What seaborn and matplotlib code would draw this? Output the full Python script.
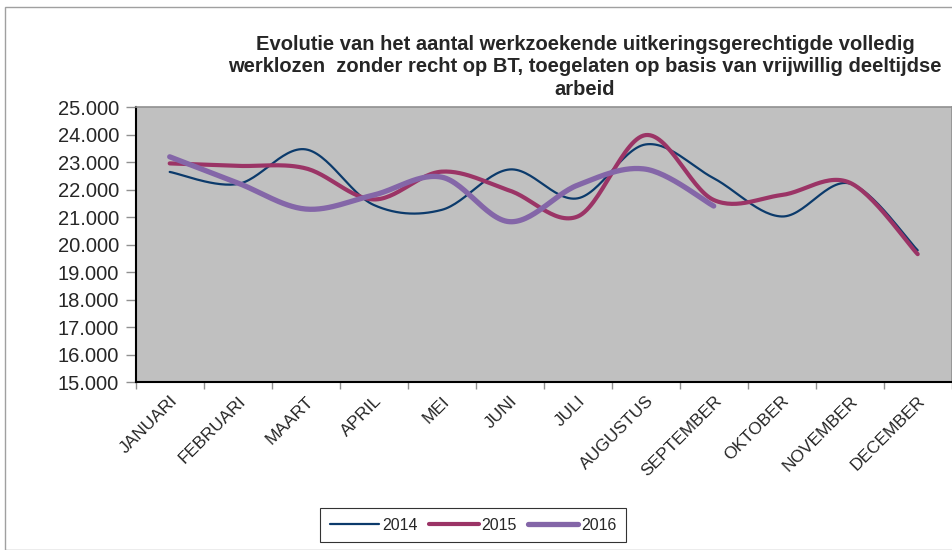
import numpy as np
import pandas as pd
import matplotlib
matplotlib.use("Agg")
import matplotlib.pyplot as plt
from matplotlib.patches import Rectangle
from matplotlib.ticker import FuncFormatter, FixedLocator
import seaborn as sns

months = ["JANUARI", "FEBRUARI", "MAART", "APRIL", "MEI", "JUNI", "JULI",
          "AUGUSTUS", "SEPTEMBER", "OKTOBER", "NOVEMBER", "DECEMBER"]
v2014 = [22650, 22210, 23470, 21450, 21270, 22740, 21690, 23650, 22420, 21030, 22230, 19800]
v2015 = [22960, 22870, 22780, 21650, 22660, 21970, 21030, 23990, 21630, 21810, 22260, 19660]
v2016 = [23200, 22250, 21300, 21810, 22460, 20840, 22170, 22750, 21410]
years = ["2014", "2015", "2016"]
title = ("Evolutie van het aantal werkzoekende uitkeringsgerechtigde volledig\n"
         "werklozen  zonder recht op BT, toegelaten op basis van vrijwillig deeltijdse\n"
         "arbeid")

sns.set_theme(style="white")
plt.rcParams['font.family'] = ['Liberation Sans', 'DejaVu Sans']

def smooth(vals, n=30):
    """Excel-style smoothed line (Catmull-Rom Bezier) through the data points."""
    x = np.arange(len(vals), dtype=float)
    y = np.asarray(vals, dtype=float)
    xs, ys = [], []
    for i in range(len(x) - 1):
        p0 = (x[max(i - 1, 0)], y[max(i - 1, 0)])
        p1 = (x[i], y[i])
        p2 = (x[i + 1], y[i + 1])
        p3 = (x[min(i + 2, len(x) - 1)], y[min(i + 2, len(x) - 1)])
        c1 = (p1[0] + (p2[0] - p0[0]) / 6, p1[1] + (p2[1] - p0[1]) / 6)
        c2 = (p2[0] - (p3[0] - p1[0]) / 6, p2[1] - (p3[1] - p1[1]) / 6)
        t = np.linspace(0, 1, n, endpoint=(i == len(x) - 2))
        bx = (1-t)**3*p1[0] + 3*(1-t)**2*t*c1[0] + 3*(1-t)*t**2*c2[0] + t**3*p2[0]
        by = (1-t)**3*p1[1] + 3*(1-t)**2*t*c1[1] + 3*(1-t)*t**2*c2[1] + t**3*p2[1]
        xs.append(bx); ys.append(by)
    return np.concatenate(xs), np.concatenate(ys)

frames = []
for yr, vals in zip(years, [v2014, v2015, v2016]):
    sx, sy = smooth(vals)
    frames.append(pd.DataFrame({"x": sx, "y": sy, "jaar": yr}))
df = pd.concat(frames, ignore_index=True)

fig = plt.figure(figsize=(9.53, 5.5), dpi=100)
fig.patch.set_facecolor("white")
fig.add_artist(Rectangle((5/953, 0), 1.0, 1 - 7/550, transform=fig.transFigure,
                         fill=False, edgecolor="#a0a0a0", linewidth=1.0))

ax = fig.add_axes([135.7/953, 1 - 382.3/550, (951.7 - 135.7)/953, (382.3 - 107.3)/550])
ax.set_facecolor("#c0c0c0")

palette = {"2014": "#0b3a6b", "2015": "#9b3466", "2016": "#8466a8"}
widths = {"2014": 1.6, "2015": 3.0, "2016": 3.8}
for yr in years:
    sns.lineplot(data=df[df.jaar == yr], x="x", y="y", color=palette[yr],
                 linewidth=widths[yr], ax=ax, label=yr, sort=False,
                 estimator=None, solid_capstyle="round")

ax.set_xlim(-0.5, 11.5)
ax.set_ylim(15000, 25000)
ax.set_xlabel("")
ax.set_ylabel("")

ax.set_yticks(np.arange(15000, 25001, 1000))
ax.yaxis.set_major_formatter(FuncFormatter(lambda v, p: f"{int(v):,}".replace(",", ".")))
ax.tick_params(axis="y", which="major", direction="out", length=7, width=1,
               color="#909090", labelsize=14.5, pad=5, left=True)

ax.set_xticks(np.arange(12))
ax.set_xticklabels(months, rotation=45, ha="right", rotation_mode="anchor",
                   fontsize=12.5)
ax.tick_params(axis="x", which="major", length=0, pad=8)
ax.xaxis.set_minor_locator(FixedLocator(np.arange(-0.5, 12, 1)))
ax.tick_params(axis="x", which="minor", direction="out", length=5, width=1,
               color="#909090", bottom=True)

for s in ["left", "bottom"]:
    ax.spines[s].set_color("black")
    ax.spines[s].set_linewidth(1.5)
for s in ["top", "right"]:
    ax.spines[s].set_color("#909090")
    ax.spines[s].set_linewidth(1.2)

fig.text(585/953, 1 - 35/550, title, ha="center", va="top", fontsize=14.5,
         fontweight="bold", linespacing=1.22)

leg = ax.legend(loc="center", bbox_to_anchor=(473/953, 1 - 525/550),
                bbox_transform=fig.transFigure, ncol=3, frameon=True,
                fancybox=False, edgecolor="black", fontsize=11.5,
                handlelength=3.1, columnspacing=0.7, handletextpad=0.2,
                borderpad=0.6, borderaxespad=0)
leg.get_frame().set_linewidth(0.8)

fig.savefig("out.png", dpi=100)
